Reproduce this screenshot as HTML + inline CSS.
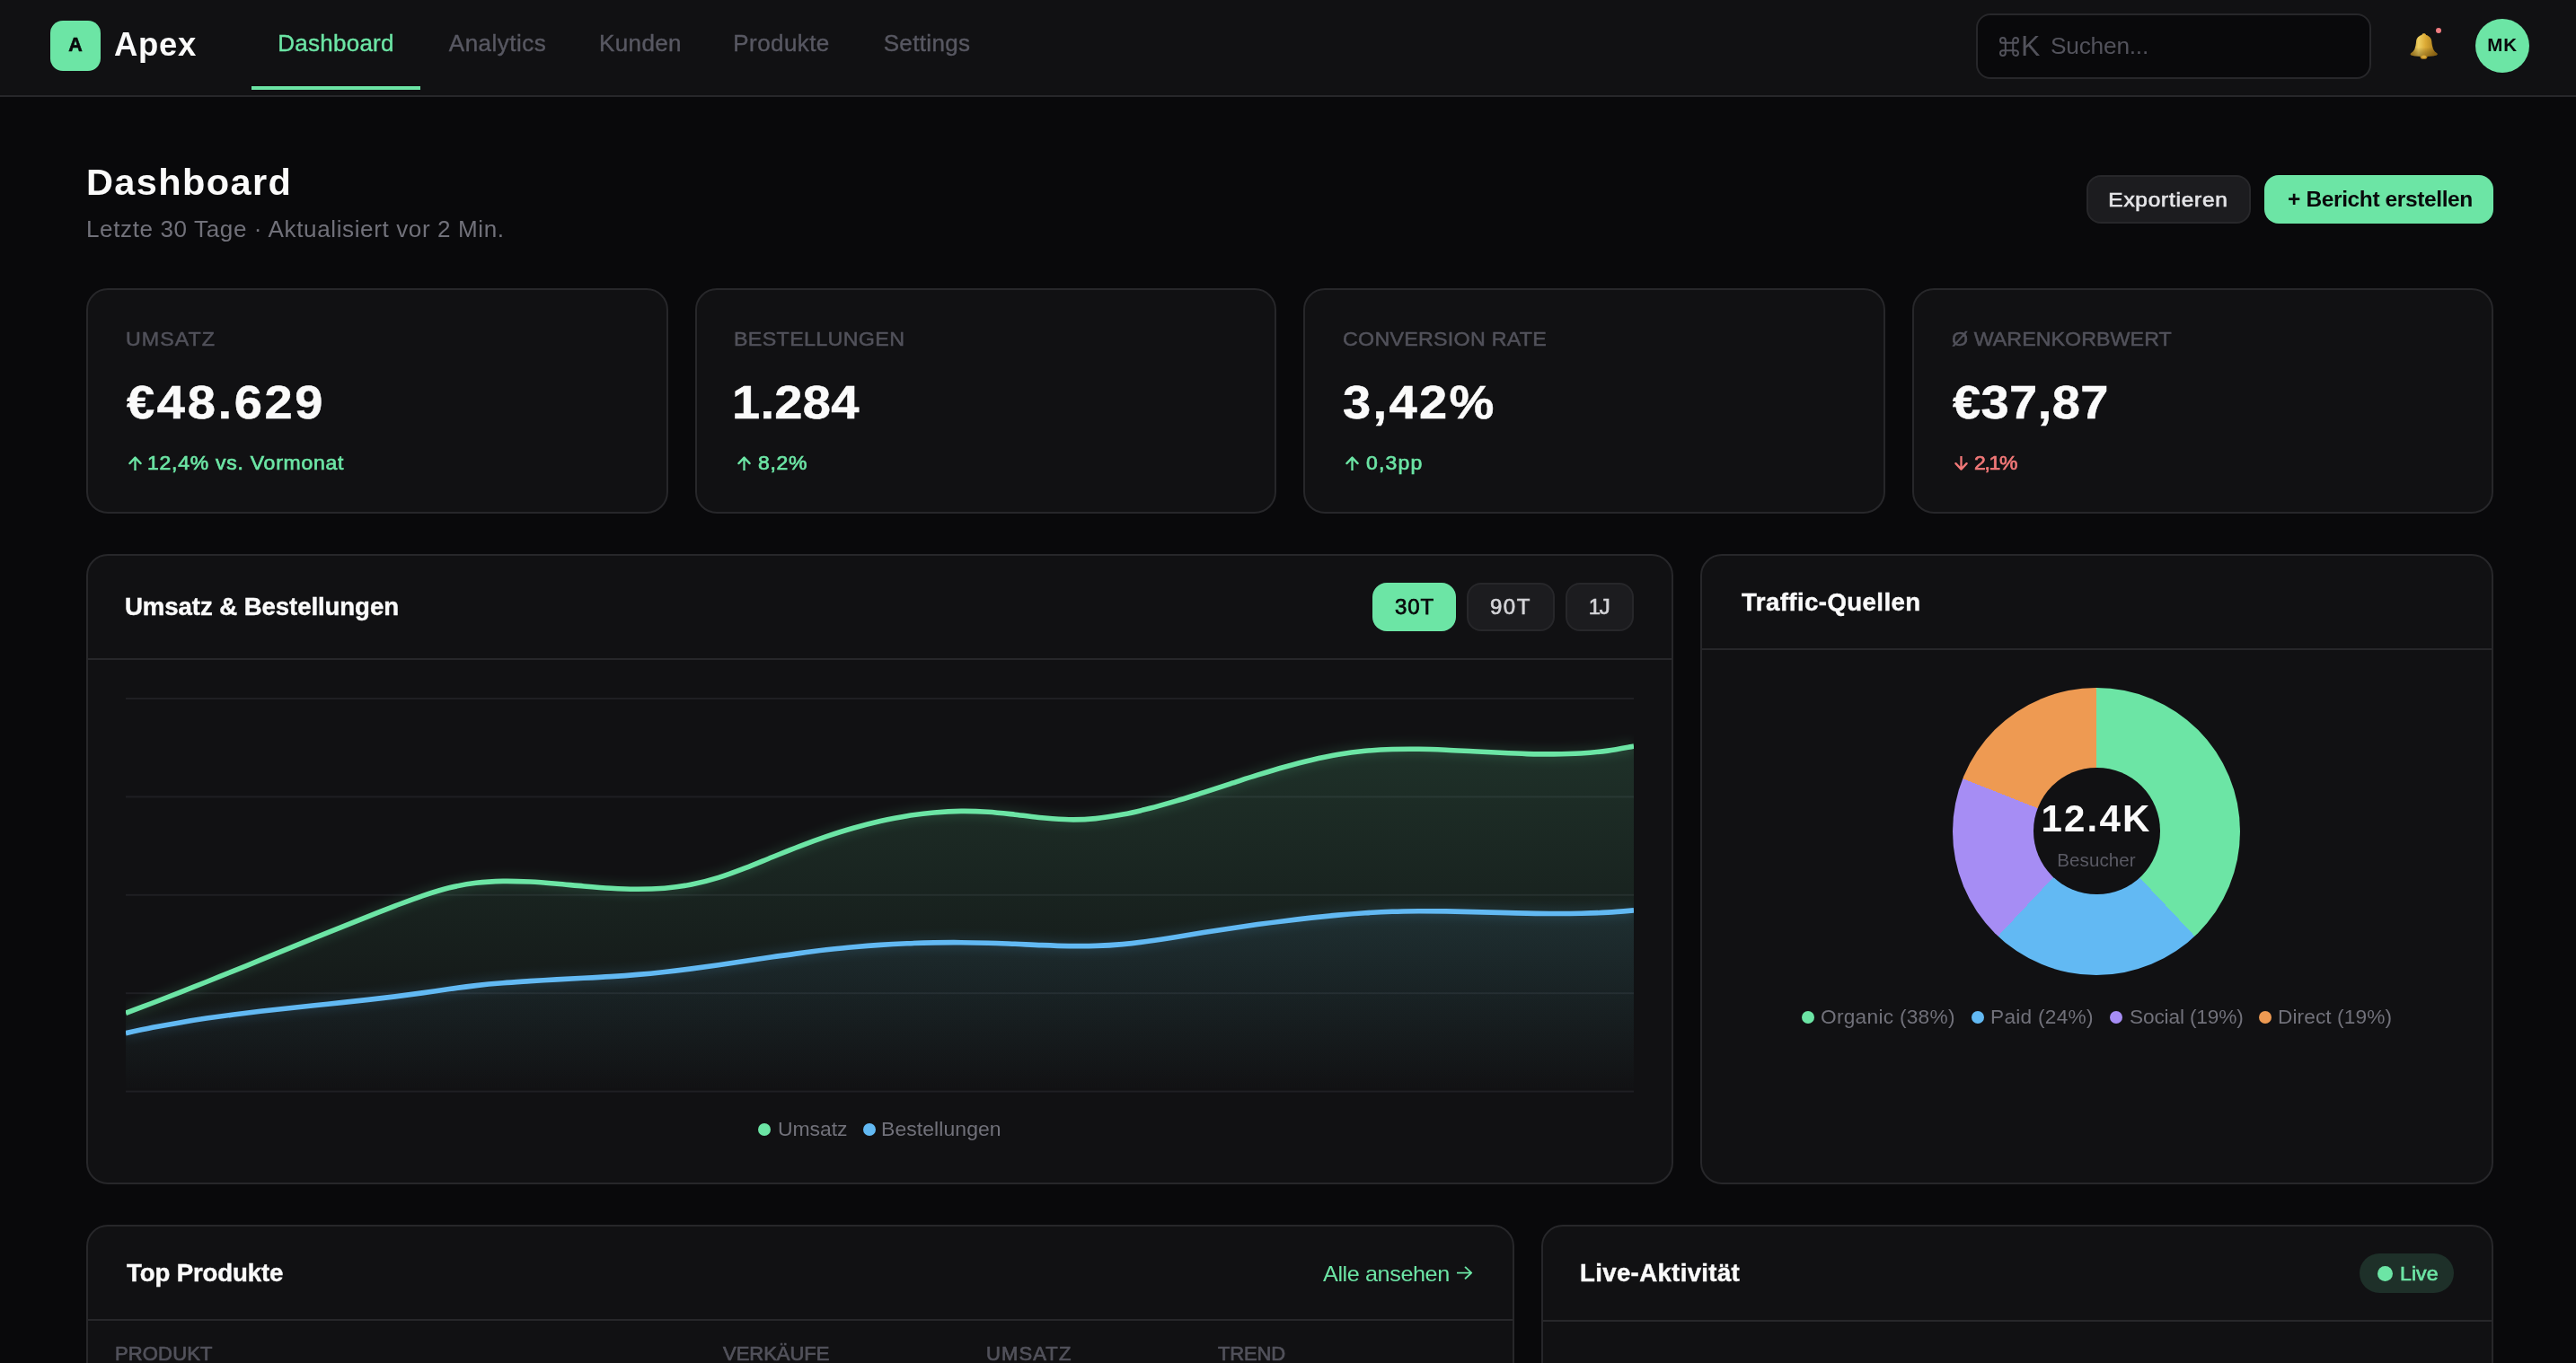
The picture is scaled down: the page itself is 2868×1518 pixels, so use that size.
<!DOCTYPE html>
<html lang="de"><head><meta charset="utf-8"><title>Apex Dashboard</title>
<style>
html,body{margin:0;padding:0;}
body{width:2868px;height:1518px;overflow:hidden;background:#09090b;position:relative;}
#root{position:absolute;left:0;top:0;width:2868px;height:1518px;overflow:hidden;background:#09090b;font-family:"Liberation Sans",sans-serif;transform-origin:0 0;}
.b{position:absolute;box-sizing:border-box;display:block;}
.t{position:absolute;white-space:nowrap;line-height:1;display:block;will-change:transform;}
</style></head><body>
<div id="root">
<div class="b" style="left:0px;top:0px;width:2868px;height:106px;background:#111113;"></div>
<div class="b" style="left:0px;top:106px;width:2868px;height:2px;background:#27272a;"></div>
<div class="b" style="left:56px;top:23px;width:56px;height:56px;background:#6ce5a5;border-radius:14px;"></div>
<span class="t" style="top:40.4px;font-size:21.5px;color:#09090b;font-weight:700;-webkit-text-stroke:0.6px #09090b;left:84.00px;transform:translateX(-50%);">A</span>
<span class="t" style="top:32.1px;font-size:36.5px;color:#fafafa;font-weight:700;letter-spacing:0.681px;left:127.10px;">Apex</span>
<span class="t" style="top:35.2px;font-size:26px;color:#6ce5a5;letter-spacing:0.26px;-webkit-text-stroke:0.4px #6ce5a5;left:373.80px;transform:translateX(-50%);">Dashboard</span>
<span class="t" style="top:35.2px;font-size:26px;color:#585862;letter-spacing:0.48px;-webkit-text-stroke:0.4px #585862;left:553.50px;transform:translateX(-50%);">Analytics</span>
<span class="t" style="top:35.2px;font-size:26px;color:#585862;letter-spacing:0.364px;-webkit-text-stroke:0.4px #585862;left:712.80px;transform:translateX(-50%);">Kunden</span>
<span class="t" style="top:35.2px;font-size:26px;color:#585862;letter-spacing:0.414px;-webkit-text-stroke:0.4px #585862;left:870.00px;transform:translateX(-50%);">Produkte</span>
<span class="t" style="top:35.2px;font-size:26px;color:#585862;letter-spacing:0.338px;-webkit-text-stroke:0.4px #585862;left:1032.10px;transform:translateX(-50%);">Settings</span>
<div class="b" style="left:280px;top:96px;width:188px;height:4px;background:#6ce5a5;"></div>
<div class="b" style="left:2200px;top:15px;width:440px;height:73px;background:#09090b;border:2px solid #27272a;border-radius:16px;"></div>
<svg class="b" style="left:2224.7px;top:39.5px" width="24" height="24" viewBox="0 0 24 24"><path d="M7.8,7.8V4.9A2.9,2.9 0 1 0 4.9,7.8H19.1A2.9,2.9 0 1 0 16.2,4.9V19.1A2.9,2.9 0 1 0 19.1,16.2H4.9A2.9,2.9 0 1 0 7.8,19.1Z" fill="none" stroke="#52525b" stroke-width="2"/></svg>
<span class="t" style="top:35.0px;font-size:32px;color:#52525b;left:2250.00px;">K</span>
<span class="t" style="top:38.8px;font-size:25.8px;color:#52525b;letter-spacing:-0.239px;left:2283.10px;transform-origin:0 50%;transform:scaleX(1.02);">Suchen...</span>
<svg class="b" style="left:2682.5px;top:35.5px" width="32" height="32" viewBox="0 0 32 32"><defs><linearGradient id="bg" x1="0" y1="0" x2="1" y2="0"><stop offset="0" stop-color="#b98a22"/><stop offset="0.3" stop-color="#f0d062"/><stop offset="0.55" stop-color="#dcab36"/><stop offset="1" stop-color="#a07216"/></linearGradient><linearGradient id="bg2" x1="0" y1="0" x2="0" y2="1"><stop offset="0.6" stop-color="#000" stop-opacity="0"/><stop offset="1" stop-color="#5a3c05" stop-opacity="0.45"/></linearGradient></defs><ellipse cx="15.5" cy="26.9" rx="4" ry="2.9" fill="#b9841d"/><path d="M13.4,2.9C13.4,1.8 14.4,1.2 15.7,1.2C17,1.2 18,1.8 18,2.9C21.6,3.6 24,6.5 24.3,10C24.6,13.5 25.2,16 26,18.5C26.8,20.8 28.8,22.3 30.4,23.6C31,24.2 30.8,25.2 29.8,25.6C26,26.7 21,27 15.7,27C10.4,27 5.4,26.7 1.6,25.6C0.6,25.2 0.4,24.2 1,23.6C2.600,22.3 4.600,20.8 5.4,18.5C6.2,16 6.8,13.5 7.1,10C7.4,6.5 9.8,3.6 13.4,2.9Z" fill="url(#bg)"/><path d="M13.4,2.9C13.4,1.8 14.4,1.2 15.7,1.2C17,1.2 18,1.8 18,2.9C21.6,3.6 24,6.5 24.3,10C24.6,13.5 25.2,16 26,18.5C26.8,20.8 28.8,22.3 30.4,23.6C31,24.2 30.8,25.2 29.8,25.6C26,26.7 21,27 15.7,27C10.4,27 5.4,26.7 1.6,25.6C0.6,25.2 0.4,24.2 1,23.6C2.600,22.3 4.600,20.8 5.4,18.5C6.2,16 6.8,13.5 7.1,10C7.4,6.5 9.8,3.6 13.4,2.9Z" fill="url(#bg2)"/><ellipse cx="15.600" cy="27.2" rx="2.600" ry="1.700" fill="#d9a93a"/></svg>
<div class="b" style="left:2711.9px;top:30.8px;width:6.599999999999909px;height:6.599999999999998px;background:#f07c80;border-radius:50%;"></div>
<div class="b" style="left:2756px;top:21px;width:60px;height:60px;background:#6ce5a5;border-radius:50%;"></div>
<span class="t" style="top:40.1px;font-size:20.5px;color:#09090b;font-weight:700;letter-spacing:0.8px;left:2786.30px;transform:translateX(-50%);">MK</span>
<span class="t" style="top:181.7px;font-size:41.5px;color:#fafafa;font-weight:700;letter-spacing:1.38px;left:96.20px;">Dashboard</span>
<span class="t" style="top:242.5px;font-size:25.3px;color:#71717a;letter-spacing:0.592px;left:95.70px;transform-origin:0 50%;transform:scaleX(1.03);">Letzte 30 Tage · Aktualisiert vor 2 Min.</span>
<div class="b" style="left:2323px;top:195px;width:183px;height:54px;background:#1c1c1f;border:2px solid #27272a;border-radius:16px;"></div>
<span class="t" style="top:210.9px;font-size:22.8px;color:#e4e4e7;letter-spacing:0.727px;-webkit-text-stroke:0.7px #e4e4e7;left:2414.40px;transform:translateX(-50%) scaleX(1.07);">Exportieren</span>
<div class="b" style="left:2521px;top:195px;width:255px;height:54px;background:#6ce5a5;border-radius:16px;"></div>
<span class="t" style="top:209.7px;font-size:24.5px;color:#09090b;font-weight:700;letter-spacing:-0.387px;left:2649.60px;transform:translateX(-50%);">+ Bericht erstellen</span>
<div class="b" style="left:96px;top:321px;width:648px;height:251px;background:#111113;border:2px solid #27272a;border-radius:24px;"></div>
<span class="t" style="top:365.5px;font-size:22.8px;color:#52525b;letter-spacing:0.998px;-webkit-text-stroke:0.5px #52525b;left:139.50px;transform-origin:0 50%;transform:scaleX(1.02);">UMSATZ</span>
<span class="t" style="top:422.6px;font-size:51px;color:#fafafa;font-weight:700;letter-spacing:2.378px;-webkit-text-stroke:0.5px #fafafa;left:141.00px;transform-origin:0 50%;transform:scaleX(1.1);">€48.629</span>
<svg class="b" style="left:142.6px;top:507.7px" width="15" height="16.2" viewBox="0 0 15 16.2"><path d="M7.5,15.7V1.6M1.4,8.1L7.5,1.6L13.6,8.1" fill="none" stroke="#6ce5a5" stroke-width="2.3" stroke-linecap="round" stroke-linejoin="round"/></svg>
<span class="t" style="top:505.1px;font-size:22.3px;color:#6ce5a5;letter-spacing:0.736px;-webkit-text-stroke:0.7px #6ce5a5;left:164.00px;transform-origin:0 50%;transform:scaleX(1.03);">12,4% vs. Vormonat</span>
<div class="b" style="left:774px;top:321px;width:647px;height:251px;background:#111113;border:2px solid #27272a;border-radius:24px;"></div>
<span class="t" style="top:365.5px;font-size:22.8px;color:#52525b;letter-spacing:0.343px;-webkit-text-stroke:0.5px #52525b;left:816.90px;transform-origin:0 50%;transform:scaleX(1.02);">BESTELLUNGEN</span>
<span class="t" style="top:422.6px;font-size:51px;color:#fafafa;font-weight:700;letter-spacing:0.256px;-webkit-text-stroke:0.5px #fafafa;left:815.40px;transform-origin:0 50%;transform:scaleX(1.1);">1.284</span>
<svg class="b" style="left:820.6px;top:507.7px" width="15" height="16.2" viewBox="0 0 15 16.2"><path d="M7.5,15.7V1.6M1.4,8.1L7.5,1.6L13.6,8.1" fill="none" stroke="#6ce5a5" stroke-width="2.3" stroke-linecap="round" stroke-linejoin="round"/></svg>
<span class="t" style="top:505.1px;font-size:22.3px;color:#6ce5a5;letter-spacing:0.7px;-webkit-text-stroke:0.7px #6ce5a5;left:844.00px;transform-origin:0 50%;transform:scaleX(1.03);">8,2%</span>
<div class="b" style="left:1451px;top:321px;width:648px;height:251px;background:#111113;border:2px solid #27272a;border-radius:24px;"></div>
<span class="t" style="top:365.5px;font-size:22.8px;color:#52525b;letter-spacing:0.256px;-webkit-text-stroke:0.5px #52525b;left:1494.50px;transform-origin:0 50%;transform:scaleX(1.02);">CONVERSION RATE</span>
<span class="t" style="top:422.6px;font-size:51px;color:#fafafa;font-weight:700;letter-spacing:2.138px;-webkit-text-stroke:0.5px #fafafa;left:1495.00px;transform-origin:0 50%;transform:scaleX(1.1);">3,42%</span>
<svg class="b" style="left:1497.6px;top:507.7px" width="15" height="16.2" viewBox="0 0 15 16.2"><path d="M7.5,15.7V1.6M1.4,8.1L7.5,1.6L13.6,8.1" fill="none" stroke="#6ce5a5" stroke-width="2.3" stroke-linecap="round" stroke-linejoin="round"/></svg>
<span class="t" style="top:505.1px;font-size:22.3px;color:#6ce5a5;letter-spacing:1.177px;-webkit-text-stroke:0.7px #6ce5a5;left:1521.00px;transform-origin:0 50%;transform:scaleX(1.03);">0,3pp</span>
<div class="b" style="left:2129px;top:321px;width:647px;height:251px;background:#111113;border:2px solid #27272a;border-radius:24px;"></div>
<span class="t" style="top:365.5px;font-size:22.8px;color:#52525b;letter-spacing:0.041px;-webkit-text-stroke:0.5px #52525b;left:2173.10px;transform-origin:0 50%;transform:scaleX(1.02);">Ø WARENKORBWERT</span>
<span class="t" style="top:422.6px;font-size:51px;color:#fafafa;font-weight:700;letter-spacing:0.329px;-webkit-text-stroke:0.5px #fafafa;left:2173.60px;transform-origin:0 50%;transform:scaleX(1.1);">€37,87</span>
<svg class="b" style="left:2175.6px;top:507.7px" width="15" height="16.2" viewBox="0 0 15 16.2"><path d="M7.5,0.5V14.6M1.4,8.1L7.5,14.6L13.6,8.1" fill="none" stroke="#f17878" stroke-width="2.3" stroke-linecap="round" stroke-linejoin="round"/></svg>
<span class="t" style="top:505.1px;font-size:22.3px;color:#f17878;letter-spacing:-1.254px;-webkit-text-stroke:0.7px #f17878;left:2198.00px;transform-origin:0 50%;transform:scaleX(1.03);">2,1%</span>
<div class="b" style="left:96px;top:617px;width:1767px;height:702px;background:#111113;border:2px solid #27272a;border-radius:24px;"></div>
<div class="b" style="left:98px;top:733px;width:1763px;height:2px;background:#27272a;"></div>
<span class="t" style="top:662.0px;font-size:27.6px;color:#fafafa;font-weight:700;letter-spacing:-0.082px;-webkit-text-stroke:0.45px #fafafa;left:139.00px;">Umsatz &amp; Bestellungen</span>
<div class="b" style="left:1528px;top:649px;width:93px;height:54px;background:#6ce5a5;border-radius:16px;"></div>
<span class="t" style="top:663.7px;font-size:24px;color:#09090b;letter-spacing:0.94px;-webkit-text-stroke:0.75px #09090b;left:1574.50px;transform:translateX(-50%);">30T</span>
<div class="b" style="left:1633px;top:649px;width:98px;height:54px;background:#1c1c1f;border:2px solid #27272a;border-radius:16px;"></div>
<span class="t" style="top:663.7px;font-size:24px;color:#d4d4d8;letter-spacing:1.58px;-webkit-text-stroke:0.65px #d4d4d8;left:1682.00px;transform:translateX(-50%);">90T</span>
<div class="b" style="left:1743px;top:649px;width:76px;height:54px;background:#1c1c1f;border:2px solid #27272a;border-radius:16px;"></div>
<span class="t" style="top:663.7px;font-size:24px;color:#d4d4d8;letter-spacing:-1.3px;-webkit-text-stroke:0.65px #d4d4d8;left:1779.70px;transform:translateX(-50%);">1J</span>
<svg class="b" style="left:140px;top:760px" width="1679" height="470" viewBox="0 0 1679 470"><defs><linearGradient id="gg" gradientUnits="userSpaceOnUse" x1="0" y1="71" x2="0" y2="456.5999999999999"><stop offset="0" stop-color="#6ce5a5" stop-opacity="0.15"/><stop offset="1" stop-color="#6ce5a5" stop-opacity="0"/></linearGradient><linearGradient id="gb" gradientUnits="userSpaceOnUse" x1="0" y1="254" x2="0" y2="456.5999999999999"><stop offset="0" stop-color="#62b9f3" stop-opacity="0.09"/><stop offset="1" stop-color="#62b9f3" stop-opacity="0"/></linearGradient><filter id="bl" x="-5%" y="-20%" width="110%" height="140%"><feGaussianBlur stdDeviation="6"/></filter></defs><rect x="0" y="17.0" width="1679" height="2" fill="#1f1f23"/><rect x="0" y="126.4" width="1679" height="2" fill="#1f1f23"/><rect x="0" y="235.8" width="1679" height="2" fill="#1f1f23"/><rect x="0" y="345.2" width="1679" height="2" fill="#1f1f23"/><rect x="0" y="454.6" width="1679" height="2" fill="#1f1f23"/><path d="M0.0,368.3C5.0,366.4 20.0,360.8 30.0,357.0C40.0,353.2 50.0,349.3 60.0,345.4C70.0,341.4 80.0,337.5 90.0,333.5C100.0,329.5 110.0,325.4 120.0,321.4C130.0,317.3 140.0,313.3 150.0,309.2C160.0,305.1 170.0,301.0 180.0,296.9C190.0,292.9 200.0,288.8 210.0,284.7C220.0,280.7 230.0,276.6 240.0,272.6C250.0,268.6 260.0,264.6 270.0,260.6C280.0,256.7 290.0,252.7 300.0,248.9C310.0,245.1 320.0,241.2 330.0,237.8C340.0,234.5 350.0,231.2 360.0,228.8C370.0,226.4 380.0,224.5 390.0,223.3C400.0,222.1 410.0,221.6 420.0,221.4C430.0,221.2 440.0,221.6 450.0,222.0C460.0,222.5 470.0,223.4 480.0,224.3C490.0,225.1 500.0,226.2 510.0,227.0C520.0,227.9 530.0,228.8 540.0,229.3C550.0,229.9 560.0,230.4 570.0,230.3C580.0,230.3 590.0,230.0 600.0,229.2C610.0,228.3 620.0,227.1 630.0,225.1C640.0,223.1 650.0,220.5 660.0,217.4C670.0,214.3 680.0,210.4 690.0,206.6C700.0,202.8 710.0,198.5 720.0,194.5C730.0,190.5 740.0,186.4 750.0,182.6C760.0,178.7 770.0,175.0 780.0,171.6C790.0,168.2 800.0,165.0 810.0,162.2C820.0,159.4 830.0,156.8 840.0,154.5C850.0,152.3 860.0,150.3 870.0,148.7C880.0,147.1 890.0,145.9 900.0,145.0C910.0,144.1 920.0,143.5 930.0,143.4C940.0,143.3 950.0,143.6 960.0,144.2C970.0,144.9 980.0,146.1 990.0,147.2C1000.0,148.3 1010.0,149.8 1020.0,150.8C1030.0,151.7 1040.0,152.7 1050.0,152.8C1060.0,153.0 1070.0,152.6 1080.0,151.6C1090.0,150.7 1100.0,149.0 1110.0,147.1C1120.0,145.2 1130.0,142.8 1140.0,140.3C1150.0,137.7 1160.0,134.8 1170.0,131.9C1180.0,128.9 1190.0,125.7 1200.0,122.6C1210.0,119.4 1220.0,116.1 1230.0,112.8C1240.0,109.6 1250.0,106.3 1260.0,103.2C1270.0,100.1 1280.0,97.0 1290.0,94.2C1300.0,91.4 1310.0,88.7 1320.0,86.4C1330.0,84.1 1340.0,82.0 1350.0,80.3C1360.0,78.6 1370.0,77.3 1380.0,76.3C1390.0,75.4 1400.0,74.8 1410.0,74.5C1420.0,74.2 1430.0,74.2 1440.0,74.3C1450.0,74.4 1460.0,74.8 1470.0,75.2C1480.0,75.6 1490.0,76.2 1500.0,76.7C1510.0,77.2 1520.0,77.8 1530.0,78.3C1540.0,78.8 1550.0,79.3 1560.0,79.6C1570.0,79.8 1580.0,80.0 1590.0,79.9C1600.0,79.8 1610.0,79.6 1620.0,79.0C1630.0,78.3 1640.2,77.4 1650.0,76.1C1659.8,74.8 1674.2,71.9 1679.0,71.1L1679,456.5999999999999L0,456.5999999999999Z" fill="url(#gg)"/><path d="M0.0,390.7C5.0,389.6 20.0,386.3 30.0,384.3C40.0,382.4 50.0,380.6 60.0,378.9C70.0,377.2 80.0,375.6 90.0,374.1C100.0,372.7 110.0,371.3 120.0,370.0C130.0,368.7 140.0,367.5 150.0,366.3C160.0,365.2 170.0,364.1 180.0,363.0C190.0,361.9 200.0,360.8 210.0,359.8C220.0,358.7 230.0,357.7 240.0,356.6C250.0,355.6 260.0,354.5 270.0,353.4C280.0,352.2 290.0,351.1 300.0,349.9C310.0,348.6 320.0,347.3 330.0,345.9C340.0,344.5 350.0,342.9 360.0,341.5C370.0,340.1 380.0,338.8 390.0,337.6C400.0,336.5 410.0,335.6 420.0,334.8C430.0,333.9 440.0,333.3 450.0,332.6C460.0,332.0 470.0,331.5 480.0,330.9C490.0,330.4 500.0,329.9 510.0,329.3C520.0,328.8 530.0,328.3 540.0,327.6C550.0,327.0 560.0,326.3 570.0,325.4C580.0,324.6 590.0,323.6 600.0,322.5C610.0,321.4 620.0,320.2 630.0,318.9C640.0,317.5 650.0,316.1 660.0,314.7C670.0,313.3 680.0,311.7 690.0,310.3C700.0,308.8 710.0,307.3 720.0,305.8C730.0,304.4 740.0,302.9 750.0,301.6C760.0,300.2 770.0,298.9 780.0,297.8C790.0,296.7 800.0,295.6 810.0,294.7C820.0,293.8 830.0,293.0 840.0,292.4C850.0,291.7 860.0,291.2 870.0,290.8C880.0,290.3 890.0,290.0 900.0,289.9C910.0,289.7 920.0,289.6 930.0,289.7C940.0,289.7 950.0,289.9 960.0,290.2C970.0,290.4 980.0,290.9 990.0,291.3C1000.0,291.7 1010.0,292.3 1020.0,292.6C1030.0,293.0 1040.0,293.4 1050.0,293.6C1060.0,293.7 1070.0,293.8 1080.0,293.4C1090.0,293.1 1100.0,292.5 1110.0,291.6C1120.0,290.7 1130.0,289.4 1140.0,288.0C1150.0,286.7 1160.0,285.1 1170.0,283.5C1180.0,281.9 1190.0,280.2 1200.0,278.6C1210.0,277.0 1220.0,275.5 1230.0,274.0C1240.0,272.5 1250.0,271.0 1260.0,269.6C1270.0,268.2 1280.0,266.9 1290.0,265.7C1300.0,264.4 1310.0,263.2 1320.0,262.1C1330.0,261.0 1340.0,260.0 1350.0,259.1C1360.0,258.2 1370.0,257.4 1380.0,256.7C1390.0,256.1 1400.0,255.6 1410.0,255.3C1420.0,254.9 1430.0,254.8 1440.0,254.7C1450.0,254.7 1460.0,254.8 1470.0,254.9C1480.0,255.1 1490.0,255.3 1500.0,255.6C1510.0,255.8 1520.0,256.1 1530.0,256.4C1540.0,256.7 1550.0,257.0 1560.0,257.1C1570.0,257.3 1580.0,257.5 1590.0,257.5C1600.0,257.5 1610.0,257.5 1620.0,257.3C1630.0,257.0 1640.2,256.7 1650.0,256.1C1659.8,255.6 1674.2,254.3 1679.0,253.9L1679,456.5999999999999L0,456.5999999999999Z" fill="url(#gb)"/><path d="M0.0,368.3C5.0,366.4 20.0,360.8 30.0,357.0C40.0,353.2 50.0,349.3 60.0,345.4C70.0,341.4 80.0,337.5 90.0,333.5C100.0,329.5 110.0,325.4 120.0,321.4C130.0,317.3 140.0,313.3 150.0,309.2C160.0,305.1 170.0,301.0 180.0,296.9C190.0,292.9 200.0,288.8 210.0,284.7C220.0,280.7 230.0,276.6 240.0,272.6C250.0,268.6 260.0,264.6 270.0,260.6C280.0,256.7 290.0,252.7 300.0,248.9C310.0,245.1 320.0,241.2 330.0,237.8C340.0,234.5 350.0,231.2 360.0,228.8C370.0,226.4 380.0,224.5 390.0,223.3C400.0,222.1 410.0,221.6 420.0,221.4C430.0,221.2 440.0,221.6 450.0,222.0C460.0,222.5 470.0,223.4 480.0,224.3C490.0,225.1 500.0,226.2 510.0,227.0C520.0,227.9 530.0,228.8 540.0,229.3C550.0,229.9 560.0,230.4 570.0,230.3C580.0,230.3 590.0,230.0 600.0,229.2C610.0,228.3 620.0,227.1 630.0,225.1C640.0,223.1 650.0,220.5 660.0,217.4C670.0,214.3 680.0,210.4 690.0,206.6C700.0,202.8 710.0,198.5 720.0,194.5C730.0,190.5 740.0,186.4 750.0,182.6C760.0,178.7 770.0,175.0 780.0,171.6C790.0,168.2 800.0,165.0 810.0,162.2C820.0,159.4 830.0,156.8 840.0,154.5C850.0,152.3 860.0,150.3 870.0,148.7C880.0,147.1 890.0,145.9 900.0,145.0C910.0,144.1 920.0,143.5 930.0,143.4C940.0,143.3 950.0,143.6 960.0,144.2C970.0,144.9 980.0,146.1 990.0,147.2C1000.0,148.3 1010.0,149.8 1020.0,150.8C1030.0,151.7 1040.0,152.7 1050.0,152.8C1060.0,153.0 1070.0,152.6 1080.0,151.6C1090.0,150.7 1100.0,149.0 1110.0,147.1C1120.0,145.2 1130.0,142.8 1140.0,140.3C1150.0,137.7 1160.0,134.8 1170.0,131.9C1180.0,128.9 1190.0,125.7 1200.0,122.6C1210.0,119.4 1220.0,116.1 1230.0,112.8C1240.0,109.6 1250.0,106.3 1260.0,103.2C1270.0,100.1 1280.0,97.0 1290.0,94.2C1300.0,91.4 1310.0,88.7 1320.0,86.4C1330.0,84.1 1340.0,82.0 1350.0,80.3C1360.0,78.6 1370.0,77.3 1380.0,76.3C1390.0,75.4 1400.0,74.8 1410.0,74.5C1420.0,74.2 1430.0,74.2 1440.0,74.3C1450.0,74.4 1460.0,74.8 1470.0,75.2C1480.0,75.6 1490.0,76.2 1500.0,76.7C1510.0,77.2 1520.0,77.8 1530.0,78.3C1540.0,78.8 1550.0,79.3 1560.0,79.6C1570.0,79.8 1580.0,80.0 1590.0,79.9C1600.0,79.8 1610.0,79.6 1620.0,79.0C1630.0,78.3 1640.2,77.4 1650.0,76.1C1659.8,74.8 1674.2,71.9 1679.0,71.1" fill="none" stroke="#6ce5a5" stroke-width="12" opacity="0.13" filter="url(#bl)"/><path d="M0.0,390.7C5.0,389.6 20.0,386.3 30.0,384.3C40.0,382.4 50.0,380.6 60.0,378.9C70.0,377.2 80.0,375.6 90.0,374.1C100.0,372.7 110.0,371.3 120.0,370.0C130.0,368.7 140.0,367.5 150.0,366.3C160.0,365.2 170.0,364.1 180.0,363.0C190.0,361.9 200.0,360.8 210.0,359.8C220.0,358.7 230.0,357.7 240.0,356.6C250.0,355.6 260.0,354.5 270.0,353.4C280.0,352.2 290.0,351.1 300.0,349.9C310.0,348.6 320.0,347.3 330.0,345.9C340.0,344.5 350.0,342.9 360.0,341.5C370.0,340.1 380.0,338.8 390.0,337.6C400.0,336.5 410.0,335.6 420.0,334.8C430.0,333.9 440.0,333.3 450.0,332.6C460.0,332.0 470.0,331.5 480.0,330.9C490.0,330.4 500.0,329.9 510.0,329.3C520.0,328.8 530.0,328.3 540.0,327.6C550.0,327.0 560.0,326.3 570.0,325.4C580.0,324.6 590.0,323.6 600.0,322.5C610.0,321.4 620.0,320.2 630.0,318.9C640.0,317.5 650.0,316.1 660.0,314.7C670.0,313.3 680.0,311.7 690.0,310.3C700.0,308.8 710.0,307.3 720.0,305.8C730.0,304.4 740.0,302.9 750.0,301.6C760.0,300.2 770.0,298.9 780.0,297.8C790.0,296.7 800.0,295.6 810.0,294.7C820.0,293.8 830.0,293.0 840.0,292.4C850.0,291.7 860.0,291.2 870.0,290.8C880.0,290.3 890.0,290.0 900.0,289.9C910.0,289.7 920.0,289.6 930.0,289.7C940.0,289.7 950.0,289.9 960.0,290.2C970.0,290.4 980.0,290.9 990.0,291.3C1000.0,291.7 1010.0,292.3 1020.0,292.6C1030.0,293.0 1040.0,293.4 1050.0,293.6C1060.0,293.7 1070.0,293.8 1080.0,293.4C1090.0,293.1 1100.0,292.5 1110.0,291.6C1120.0,290.7 1130.0,289.4 1140.0,288.0C1150.0,286.7 1160.0,285.1 1170.0,283.5C1180.0,281.9 1190.0,280.2 1200.0,278.6C1210.0,277.0 1220.0,275.5 1230.0,274.0C1240.0,272.5 1250.0,271.0 1260.0,269.6C1270.0,268.2 1280.0,266.9 1290.0,265.7C1300.0,264.4 1310.0,263.2 1320.0,262.1C1330.0,261.0 1340.0,260.0 1350.0,259.1C1360.0,258.2 1370.0,257.4 1380.0,256.7C1390.0,256.1 1400.0,255.6 1410.0,255.3C1420.0,254.9 1430.0,254.8 1440.0,254.7C1450.0,254.7 1460.0,254.8 1470.0,254.9C1480.0,255.1 1490.0,255.3 1500.0,255.6C1510.0,255.8 1520.0,256.1 1530.0,256.4C1540.0,256.7 1550.0,257.0 1560.0,257.1C1570.0,257.3 1580.0,257.5 1590.0,257.5C1600.0,257.5 1610.0,257.5 1620.0,257.3C1630.0,257.0 1640.2,256.7 1650.0,256.1C1659.8,255.6 1674.2,254.3 1679.0,253.9" fill="none" stroke="#62b9f3" stroke-width="12" opacity="0.13" filter="url(#bl)"/><path d="M0.0,368.3C5.0,366.4 20.0,360.8 30.0,357.0C40.0,353.2 50.0,349.3 60.0,345.4C70.0,341.4 80.0,337.5 90.0,333.5C100.0,329.5 110.0,325.4 120.0,321.4C130.0,317.3 140.0,313.3 150.0,309.2C160.0,305.1 170.0,301.0 180.0,296.9C190.0,292.9 200.0,288.8 210.0,284.7C220.0,280.7 230.0,276.6 240.0,272.6C250.0,268.6 260.0,264.6 270.0,260.6C280.0,256.7 290.0,252.7 300.0,248.9C310.0,245.1 320.0,241.2 330.0,237.8C340.0,234.5 350.0,231.2 360.0,228.8C370.0,226.4 380.0,224.5 390.0,223.3C400.0,222.1 410.0,221.6 420.0,221.4C430.0,221.2 440.0,221.6 450.0,222.0C460.0,222.5 470.0,223.4 480.0,224.3C490.0,225.1 500.0,226.2 510.0,227.0C520.0,227.9 530.0,228.8 540.0,229.3C550.0,229.9 560.0,230.4 570.0,230.3C580.0,230.3 590.0,230.0 600.0,229.2C610.0,228.3 620.0,227.1 630.0,225.1C640.0,223.1 650.0,220.5 660.0,217.4C670.0,214.3 680.0,210.4 690.0,206.6C700.0,202.8 710.0,198.5 720.0,194.5C730.0,190.5 740.0,186.4 750.0,182.6C760.0,178.7 770.0,175.0 780.0,171.6C790.0,168.2 800.0,165.0 810.0,162.2C820.0,159.4 830.0,156.8 840.0,154.5C850.0,152.3 860.0,150.3 870.0,148.7C880.0,147.1 890.0,145.9 900.0,145.0C910.0,144.1 920.0,143.5 930.0,143.4C940.0,143.3 950.0,143.6 960.0,144.2C970.0,144.9 980.0,146.1 990.0,147.2C1000.0,148.3 1010.0,149.8 1020.0,150.8C1030.0,151.7 1040.0,152.7 1050.0,152.8C1060.0,153.0 1070.0,152.6 1080.0,151.6C1090.0,150.7 1100.0,149.0 1110.0,147.1C1120.0,145.2 1130.0,142.8 1140.0,140.3C1150.0,137.7 1160.0,134.8 1170.0,131.9C1180.0,128.9 1190.0,125.7 1200.0,122.6C1210.0,119.4 1220.0,116.1 1230.0,112.8C1240.0,109.6 1250.0,106.3 1260.0,103.2C1270.0,100.1 1280.0,97.0 1290.0,94.2C1300.0,91.4 1310.0,88.7 1320.0,86.4C1330.0,84.1 1340.0,82.0 1350.0,80.3C1360.0,78.6 1370.0,77.3 1380.0,76.3C1390.0,75.4 1400.0,74.8 1410.0,74.5C1420.0,74.2 1430.0,74.2 1440.0,74.3C1450.0,74.4 1460.0,74.8 1470.0,75.2C1480.0,75.6 1490.0,76.2 1500.0,76.7C1510.0,77.2 1520.0,77.8 1530.0,78.3C1540.0,78.8 1550.0,79.3 1560.0,79.6C1570.0,79.8 1580.0,80.0 1590.0,79.9C1600.0,79.8 1610.0,79.6 1620.0,79.0C1630.0,78.3 1640.2,77.4 1650.0,76.1C1659.8,74.8 1674.2,71.9 1679.0,71.1" fill="none" stroke="#6ce5a5" stroke-width="5.6"/><path d="M0.0,390.7C5.0,389.6 20.0,386.3 30.0,384.3C40.0,382.4 50.0,380.6 60.0,378.9C70.0,377.2 80.0,375.6 90.0,374.1C100.0,372.7 110.0,371.3 120.0,370.0C130.0,368.7 140.0,367.5 150.0,366.3C160.0,365.2 170.0,364.1 180.0,363.0C190.0,361.9 200.0,360.8 210.0,359.8C220.0,358.7 230.0,357.7 240.0,356.6C250.0,355.6 260.0,354.5 270.0,353.4C280.0,352.2 290.0,351.1 300.0,349.9C310.0,348.6 320.0,347.3 330.0,345.9C340.0,344.5 350.0,342.9 360.0,341.5C370.0,340.1 380.0,338.8 390.0,337.6C400.0,336.5 410.0,335.6 420.0,334.8C430.0,333.9 440.0,333.3 450.0,332.6C460.0,332.0 470.0,331.5 480.0,330.9C490.0,330.4 500.0,329.9 510.0,329.3C520.0,328.8 530.0,328.3 540.0,327.6C550.0,327.0 560.0,326.3 570.0,325.4C580.0,324.6 590.0,323.6 600.0,322.5C610.0,321.4 620.0,320.2 630.0,318.9C640.0,317.5 650.0,316.1 660.0,314.7C670.0,313.3 680.0,311.7 690.0,310.3C700.0,308.8 710.0,307.3 720.0,305.8C730.0,304.4 740.0,302.9 750.0,301.6C760.0,300.2 770.0,298.9 780.0,297.8C790.0,296.7 800.0,295.6 810.0,294.7C820.0,293.8 830.0,293.0 840.0,292.4C850.0,291.7 860.0,291.2 870.0,290.8C880.0,290.3 890.0,290.0 900.0,289.9C910.0,289.7 920.0,289.6 930.0,289.7C940.0,289.7 950.0,289.9 960.0,290.2C970.0,290.4 980.0,290.9 990.0,291.3C1000.0,291.7 1010.0,292.3 1020.0,292.6C1030.0,293.0 1040.0,293.4 1050.0,293.6C1060.0,293.7 1070.0,293.8 1080.0,293.4C1090.0,293.1 1100.0,292.5 1110.0,291.6C1120.0,290.7 1130.0,289.4 1140.0,288.0C1150.0,286.7 1160.0,285.1 1170.0,283.5C1180.0,281.9 1190.0,280.2 1200.0,278.6C1210.0,277.0 1220.0,275.5 1230.0,274.0C1240.0,272.5 1250.0,271.0 1260.0,269.6C1270.0,268.2 1280.0,266.9 1290.0,265.7C1300.0,264.4 1310.0,263.2 1320.0,262.1C1330.0,261.0 1340.0,260.0 1350.0,259.1C1360.0,258.2 1370.0,257.4 1380.0,256.7C1390.0,256.1 1400.0,255.6 1410.0,255.3C1420.0,254.9 1430.0,254.8 1440.0,254.7C1450.0,254.7 1460.0,254.8 1470.0,254.9C1480.0,255.1 1490.0,255.3 1500.0,255.6C1510.0,255.8 1520.0,256.1 1530.0,256.4C1540.0,256.7 1550.0,257.0 1560.0,257.1C1570.0,257.3 1580.0,257.5 1590.0,257.5C1600.0,257.5 1610.0,257.5 1620.0,257.3C1630.0,257.0 1640.2,256.7 1650.0,256.1C1659.8,255.6 1674.2,254.3 1679.0,253.9" fill="none" stroke="#62b9f3" stroke-width="5.6"/></svg>
<div class="b" style="left:844px;top:1251px;width:14px;height:14px;background:#6ce5a5;border-radius:50%;"></div>
<span class="t" style="top:1247.1px;font-size:22.3px;color:#71717a;letter-spacing:-0.082px;left:866.10px;transform-origin:0 50%;transform:scaleX(1.03);">Umsatz</span>
<div class="b" style="left:961px;top:1251px;width:14px;height:14px;background:#62b9f3;border-radius:50%;"></div>
<span class="t" style="top:1247.1px;font-size:22.3px;color:#71717a;letter-spacing:0.074px;left:981.20px;transform-origin:0 50%;transform:scaleX(1.03);">Bestellungen</span>
<div class="b" style="left:1893px;top:617px;width:883px;height:702px;background:#111113;border:2px solid #27272a;border-radius:24px;"></div>
<div class="b" style="left:1895px;top:722px;width:879px;height:2px;background:#27272a;"></div>
<span class="t" style="top:656.8px;font-size:27.6px;color:#fafafa;font-weight:700;letter-spacing:0.427px;-webkit-text-stroke:0.45px #fafafa;left:1938.60px;">Traffic-Quellen</span>
<div class="b" style="left:2174.3px;top:766px;width:320.0px;height:320px;border-radius:50%;background:conic-gradient(#6ce5a5 0 38%,#62b9f3 38% 62%,#a68df4 62% 81%,#ee9a52 81% 100%);"></div>
<div class="b" style="left:2264.3999999999996px;top:855.2px;width:140.60000000000036px;height:140.5999999999999px;border-radius:50%;background:#111113;"></div>
<span class="t" style="top:890.6px;font-size:42px;color:#fafafa;font-weight:700;letter-spacing:2.2px;left:2334.00px;transform:translateX(-50%);">12.4K</span>
<span class="t" style="top:949.0px;font-size:19.8px;color:#5a5a64;letter-spacing:0.064px;left:2334.00px;transform:translateX(-50%) scaleX(1.04);">Besucher</span>
<div class="b" style="left:2006px;top:1126px;width:14px;height:14px;background:#6ce5a5;border-radius:50%;"></div>
<span class="t" style="top:1122.4px;font-size:22px;color:#71717a;letter-spacing:0.275px;left:2027.00px;transform-origin:0 50%;transform:scaleX(1.03);">Organic (38%)</span>
<div class="b" style="left:2195px;top:1126px;width:14px;height:14px;background:#62b9f3;border-radius:50%;"></div>
<span class="t" style="top:1122.4px;font-size:22px;color:#71717a;letter-spacing:0.263px;left:2215.80px;transform-origin:0 50%;transform:scaleX(1.03);">Paid (24%)</span>
<div class="b" style="left:2349px;top:1126px;width:14px;height:14px;background:#a68df4;border-radius:50%;"></div>
<span class="t" style="top:1122.4px;font-size:22px;color:#71717a;letter-spacing:-0.155px;left:2370.80px;transform-origin:0 50%;transform:scaleX(1.03);">Social (19%)</span>
<div class="b" style="left:2515px;top:1126px;width:14px;height:14px;background:#ee9a52;border-radius:50%;"></div>
<span class="t" style="top:1122.4px;font-size:22px;color:#71717a;letter-spacing:0.091px;left:2535.60px;transform-origin:0 50%;transform:scaleX(1.03);">Direct (19%)</span>
<div class="b" style="left:96px;top:1364px;width:1590px;height:336px;background:#111113;border:2px solid #27272a;border-radius:24px;"></div>
<div class="b" style="left:98px;top:1468.5px;width:1586px;height:2.0px;background:#27272a;"></div>
<span class="t" style="top:1404.3px;font-size:27.6px;color:#fafafa;font-weight:700;letter-spacing:-0.127px;-webkit-text-stroke:0.45px #fafafa;left:140.90px;">Top Produkte</span>
<span class="t" style="top:1406.7px;font-size:24px;color:#6ce5a5;letter-spacing:-0.388px;left:1472.80px;transform-origin:0 50%;transform:scaleX(1.05);">Alle ansehen</span>
<svg class="b" style="left:1622.4px;top:1410.3px" width="17.8" height="15.2" viewBox="0 0 17.8 15.2"><path d="M0.5,7.6H16.2M9.600000000000001,1.4L16.2,7.6L9.600000000000001,13.799999999999999" fill="none" stroke="#6ce5a5" stroke-width="1.9" stroke-linecap="round" stroke-linejoin="round"/></svg>
<span class="t" style="top:1496.7px;font-size:21.6px;color:#52525b;letter-spacing:0.128px;-webkit-text-stroke:0.7px #52525b;left:128.10px;transform-origin:0 50%;transform:scaleX(1.02);">PRODUKT</span>
<span class="t" style="top:1496.7px;font-size:21.6px;color:#52525b;letter-spacing:-0.034px;-webkit-text-stroke:0.7px #52525b;left:805.10px;transform-origin:0 50%;transform:scaleX(1.02);">VERKÄUFE</span>
<span class="t" style="top:1496.7px;font-size:21.6px;color:#52525b;letter-spacing:1.072px;-webkit-text-stroke:0.7px #52525b;left:1097.70px;transform-origin:0 50%;transform:scaleX(1.02);">UMSATZ</span>
<span class="t" style="top:1496.7px;font-size:21.6px;color:#52525b;letter-spacing:-0.173px;-webkit-text-stroke:0.7px #52525b;left:1355.60px;transform-origin:0 50%;transform:scaleX(1.02);">TREND</span>
<div class="b" style="left:1716px;top:1364px;width:1060px;height:336px;background:#111113;border:2px solid #27272a;border-radius:24px;"></div>
<div class="b" style="left:1718px;top:1470px;width:1056px;height:2px;background:#27272a;"></div>
<span class="t" style="top:1404.3px;font-size:27.6px;color:#fafafa;font-weight:700;letter-spacing:0.346px;-webkit-text-stroke:0.45px #fafafa;left:1759.40px;">Live-Aktivität</span>
<div class="b" style="left:2627px;top:1396px;width:105px;height:44px;background:#1e3029;border-radius:22px;"></div>
<div class="b" style="left:2646.8px;top:1409.9px;width:17.0px;height:17.0px;background:#6ce5a5;border-radius:50%;"></div>
<span class="t" style="top:1407.6px;font-size:22px;color:#6ce5a5;letter-spacing:0.049px;-webkit-text-stroke:0.7px #6ce5a5;left:2671.60px;transform-origin:0 50%;transform:scaleX(1.05);">Live</span>
</div>
<script>(function(){var w=window.innerWidth||0;if(w>200&&Math.abs(w-2868)>2){var k=w/2868,r=document.getElementById('root'),b=document.body;r.style.transform='scale('+k+')';b.style.width=w+'px';b.style.height=Math.round(1518*k)+'px';}})();</script>
</body></html>
